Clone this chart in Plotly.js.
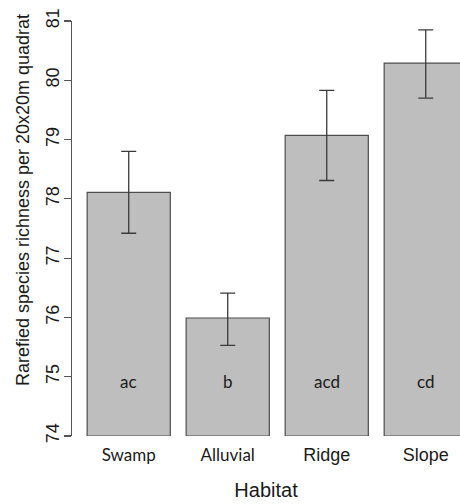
<!DOCTYPE html>
<html>
<head>
<meta charset="utf-8">
<script src="https://cdn.plot.ly/plotly-3.0.1.min.js"></script>
<style>html,body{margin:0;padding:0;background:#fff;overflow:hidden}</style>
</head>
<body>
<div id="chart" style="width:460px;height:504px"></div>
<script>
// Data
const categories = ["Swamp", "Alluvial", "Ridge", "Slope"];
const meanRichness = [78.11, 75.99, 79.07, 80.29];
const upperBound = [78.80, 76.41, 79.83, 80.85];
const lowerBound = [77.42, 75.53, 78.31, 79.70];
const groupLetters = ["ac", "b", "acd", "cd"];
const yTickVals = [74, 75, 76, 77, 78, 79, 80, 81];
const yTickText = ["74", "75", "76", "77", "78", "79", "80", "81"];
const yTitle = "Rarefied species richness per 20x20m quadrat";
const xTitle = "Habitat";

// label styling (first two labels use a Calibri-like face in the reference)
const labelStyles = [
  "font-family:Lato;font-size:17px",
  "font-family:Lato;font-size:17px",
  "font-family:'Liberation Sans';font-size:18px",
  "font-family:'Liberation Sans';font-size:18px"
];
const tickText = categories.map((c, i) => '<span style="' + labelStyles[i] + '">' + c + '</span>');

const trace = {
  type: "bar",
  x: categories,
  y: meanRichness.map(v => v - 74),
  base: 74,
  width: 0.84,
  marker: { color: "#bebebe", line: { color: "#4d4d4d", width: 1.2 } },
  error_y: {
    type: "data",
    symmetric: false,
    array: upperBound.map((u, i) => u - meanRichness[i]),
    arrayminus: meanRichness.map((m, i) => m - lowerBound[i]),
    color: "#3a3a3a",
    thickness: 1.3,
    width: 7.5
  },
  hoverinfo: "none"
};

const letterY = 74.92;
const annotations = groupLetters.map((t, i) => ({
  x: categories[i], y: letterY, xref: "x", yref: "y",
  text: t, showarrow: false,
  font: { family: "Lato", size: 17, color: "#1a1a1a" },
  xanchor: "center", yanchor: "middle"
}));
// y-axis title, placed as in the reference (shifted above the axis centre)
annotations.push({
  xref: "paper", yref: "paper", x: -0.126, y: 0.5687,
  text: yTitle, textangle: -90, showarrow: false,
  xanchor: "center", yanchor: "middle",
  font: { family: "Liberation Sans", size: 18, color: "#1a1a1a" }
});

const layout = {
  width: 460, height: 504,
  margin: { l: 72, r: 0, t: 21, b: 68, pad: 0 },
  paper_bgcolor: "#fff", plot_bgcolor: "#fff",
  showlegend: false,
  font: { family: "Liberation Sans, Arial, sans-serif", color: "#1a1a1a" },
  xaxis: {
    type: "category",
    range: [-0.573, 3.346],
    tickvals: categories,
    ticktext: tickText,
    showline: false, showgrid: false, zeroline: false,
    ticks: "", ticklabelstandoff: 6,
    tickfont: { size: 18, color: "#1a1a1a" },
    title: { text: xTitle, font: { size: 20, color: "#1a1a1a" }, standoff: 18 },
    automargin: false
  },
  yaxis: {
    range: [74, 81],
    tickvals: yTickVals,
    ticktext: yTickText,
    tickangle: -90,
    showline: true, linecolor: "#555", linewidth: 1.2,
    ticks: "outside", ticklen: 7, tickwidth: 1.2, tickcolor: "#555",
    ticklabelstandoff: -2,
    showgrid: false, zeroline: false,
    tickfont: { size: 18, color: "#1a1a1a" },
    automargin: false
  },
  annotations: annotations
};

Plotly.newPlot("chart", [trace], layout, { staticPlot: true, displayModeBar: false });
</script>
</body>
</html>
